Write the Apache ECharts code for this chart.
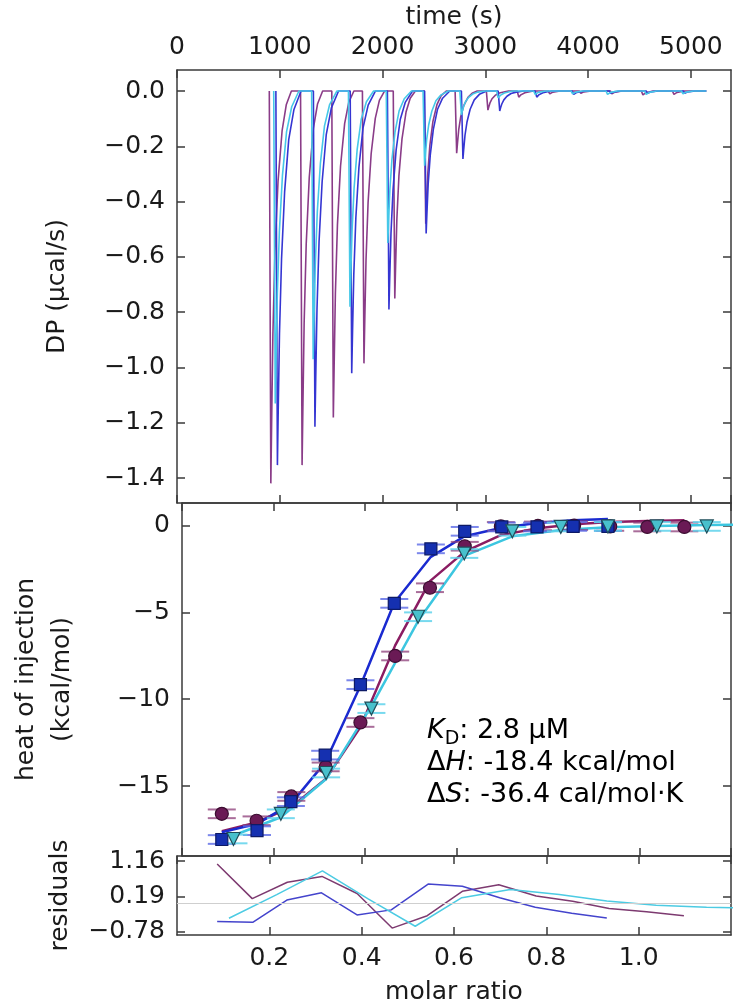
<!DOCTYPE html>
<html>
<head>
<meta charset="utf-8">
<script src="https://cdn.jsdelivr.net/npm/echarts@6/dist/echarts.min.js"></script>
<style>
html,body{margin:0;padding:0;background:#ffffff;}
#chart{width:748px;height:1006px;}
</style>
</head>
<body>
<div id="chart"></div>
<script>
// ---------------- tick labels ----------------
const timeTicks = [0, 1000, 2000, 3000, 4000, 5000];
const dpTicks = [-1.4, -1.2, -1.0, -0.8, -0.6, -0.4, -0.2, 0.0];
const heatTicks = [-15, -10, -5, 0];
const molarTicks = [0.2, 0.4, 0.6, 0.8, 1.0];
const residTicks = [-0.78, 0.19, 1.16];

// ---------------- thermogram (time s, DP µcal/s) ----------------
const dpPurple = [
  [898,0],[913,-1.419],[921,-1.192],[933,-0.880],[953,-0.582],[983,-0.326],[1023,-0.142],[1063,-0.050],[1113,0],
  [1202,0],[1217,-1.353],[1225,-1.137],[1237,-0.839],[1257,-0.555],[1287,-0.311],[1327,-0.135],[1367,-0.047],[1417,0],
  [1506,0],[1521,-1.181],[1529,-0.992],[1541,-0.732],[1561,-0.484],[1591,-0.272],[1631,-0.118],[1671,-0.041],[1721,0],
  [1804,0],[1819,-0.985],[1827,-0.827],[1839,-0.611],[1859,-0.404],[1889,-0.227],[1929,-0.099],[1969,-0.034],[2019,0],
  [2104,0],[2119,-0.750],[2127,-0.630],[2139,-0.465],[2159,-0.308],[2189,-0.173],[2229,-0.075],[2269,-0.026],[2319,0],
  [2405,0],[2420,-0.480],[2428,-0.403],[2440,-0.298],[2460,-0.197],[2490,-0.110],[2530,-0.048],[2570,-0.017],[2620,0],
  [2706,0],[2721,-0.225],[2729,-0.189],[2741,-0.140],[2761,-0.092],[2791,-0.052],[2831,-0.023],[2871,-0.008],[2921,0],
  [3010,0],[3025,-0.069],[3033,-0.058],[3045,-0.043],[3065,-0.028],[3095,-0.016],[3135,-0.007],[3225,0],
  [3310,0],[3325,-0.022],[3345,-0.014],[3385,-0.006],[3465,0],
  [3612,0],[3627,-0.010],[3657,-0.004],[3727,0],
  [3914,0],[3929,-0.008],[3959,-0.003],[4029,0],
  [4216,0],[4231,-0.010],[4261,-0.004],[4331,0],
  [4518,0],[4533,-0.014],[4563,-0.006],[4633,0],
  [4820,0],[4835,-0.012],[4865,-0.005],[4935,0],
  [5150,0]
];
const dpBlue = [
  [962,0],[977,-1.353],[985,-1.150],[997,-0.879],[1017,-0.609],[1047,-0.365],[1087,-0.176],[1137,-0.068],[1207,0],
  [1327,0],[1342,-1.214],[1350,-1.032],[1362,-0.789],[1382,-0.546],[1412,-0.328],[1452,-0.158],[1502,-0.061],[1572,0],
  [1685,0],[1700,-1.021],[1708,-0.868],[1720,-0.664],[1740,-0.459],[1770,-0.276],[1810,-0.133],[1860,-0.051],[1930,0],
  [2047,0],[2062,-0.790],[2070,-0.672],[2082,-0.514],[2102,-0.356],[2132,-0.213],[2172,-0.103],[2222,-0.040],[2292,0],
  [2409,0],[2424,-0.515],[2432,-0.438],[2444,-0.335],[2464,-0.232],[2494,-0.139],[2534,-0.067],[2584,-0.026],[2654,0],
  [2767,0],[2782,-0.246],[2790,-0.209],[2802,-0.160],[2822,-0.111],[2852,-0.066],[2892,-0.032],[2942,-0.012],[3012,0],
  [3125,0],[3140,-0.072],[3148,-0.061],[3160,-0.047],[3180,-0.032],[3210,-0.019],[3250,-0.009],[3300,-0.004],[3370,0],
  [3485,0],[3500,-0.022],[3520,-0.014],[3560,-0.006],[3640,0],
  [3845,0],[3860,-0.012],[3890,-0.005],[3960,0],
  [4205,0],[4220,-0.008],[4250,-0.003],[4320,0],
  [4565,0],[4580,-0.008],[4610,-0.003],[4680,0],
  [4925,0],[4940,-0.008],[4970,-0.003],[5040,0],
  [5150,0]
];
const dpCyan = [
  [941,0],[956,-1.13],[964,-0.961],[976,-0.735],[996,-0.509],[1026,-0.305],[1066,-0.147],[1116,-0.057],[1186,0],
  [1310,0],[1325,-0.97],[1333,-0.825],[1345,-0.631],[1365,-0.437],[1395,-0.262],[1435,-0.126],[1485,-0.049],[1555,0],
  [1668,0],[1683,-0.78],[1691,-0.663],[1703,-0.507],[1723,-0.351],[1753,-0.211],[1793,-0.101],[1843,-0.039],[1913,0],
  [2036,0],[2051,-0.55],[2059,-0.468],[2071,-0.358],[2091,-0.248],[2121,-0.149],[2161,-0.072],[2211,-0.028],[2281,0],
  [2394,0],[2409,-0.27],[2417,-0.230],[2429,-0.176],[2449,-0.122],[2479,-0.073],[2519,-0.035],[2569,-0.014],[2639,0],
  [2752,0],[2767,-0.087],[2775,-0.074],[2787,-0.057],[2807,-0.039],[2837,-0.023],[2877,-0.011],[2927,-0.004],[2997,0],
  [3110,0],[3125,-0.025],[3145,-0.016],[3185,-0.007],[3265,0],
  [3470,0],[3485,-0.012],[3515,-0.005],[3585,0],
  [3834,0],[3849,-0.010],[3879,-0.004],[3949,0],
  [4174,0],[4189,-0.012],[4219,-0.005],[4289,0],
  [4550,0],[4565,-0.012],[4595,-0.005],[4665,0],
  [4908,0],[4923,-0.010],[4953,-0.004],[5023,0],
  [5150,0]
];

// ---------------- integrated heats (molar ratio, kcal/mol) ----------------
const molarPurple = [0.087,0.163,0.239,0.314,0.390,0.466,0.542,0.618,0.697,0.778,0.857,0.936,1.017,1.098];
const heatPurple  = [-16.6,-17.0,-15.6,-13.9,-11.34,-7.51,-3.58,-1.19,-0.05,-0.02,0.0,-0.05,-0.08,-0.08];
const fitPurple   = [-17.6,-17.1,-16.2,-14.6,-11.6,-6.9,-3.2,-1.5,-0.55,-0.15,0.08,0.2,0.27,0.3];
const errPurple   = [0.25,0.25,0.25,0.25,0.25,0.25,0.25,0.25,0.25,0.25,0.25,0.25,0.25,0.25];
const residPurple = [1.08,0.13,0.58,0.74,0.27,-0.68,-0.34,0.33,0.51,0.20,0.06,-0.14,-0.23,-0.34];

const molarBlue = [0.087,0.164,0.238,0.313,0.390,0.464,0.544,0.618,0.699,0.776,0.855,0.931];
const heatBlue  = [-18.08,-17.57,-15.90,-13.22,-9.16,-4.48,-1.34,-0.33,-0.08,-0.08,-0.05,-0.05];
const fitBlue   = [-17.66,-17.18,-16.03,-13.64,-9.23,-4.44,-1.80,-0.61,-0.13,0.15,0.31,0.38];
const errBlue   = [0.25,0.25,0.25,0.25,0.25,0.25,0.25,0.25,0.25,0.25,0.25,0.25];
const residBlue = [-0.50,-0.52,0.09,0.29,-0.32,-0.18,0.53,0.47,0.155,-0.11,-0.27,-0.40];

const molarCyan = [0.1125,0.216,0.315,0.414,0.516,0.617,0.722,0.828,0.931,1.038,1.147,1.235];
const heatCyan  = [-18.05,-16.6,-14.25,-10.54,-5.25,-1.61,-0.33,-0.08,-0.05,-0.05,-0.05,-0.05];
const fitCyan   = [-17.85,-16.8,-14.6,-10.4,-5.5,-1.75,-0.62,-0.25,-0.1,-0.02,0.03,0.05];
const errCyan   = [0.25,0.25,0.25,0.25,0.25,0.25,0.25,0.25,0.25,0.25,0.25,0.25];
const residCyan = [-0.41,0.24,0.89,0.12,-0.63,0.155,0.38,0.24,0.064,-0.05,-0.11,-0.13];

// ---------------- styling ----------------
const FONT = 'DejaVu Sans';
const TXT = '#1a1a1a';
const FRAME = '#3a3a3a';
const labelBase = { fontFamily: FONT, fontSize: 25, color: TXT };
const axisLine = { show: true, onZero: false, lineStyle: { color: FRAME, width: 1.5 } };
const tickIn = { show: true, inside: true, length: 8, lineStyle: { color: FRAME, width: 1.5 } };
const noSplit = { show: false };
const minus = s => s.replace('-', '\u2212');

const G = [
  { left: 177, top: 70, width: 554, height: 433 },
  { left: 177, top: 503, width: 554, height: 353 },
  { left: 177, top: 856, width: 554, height: 79 }
];

function xAxisDef(grid, pos, min, max, interval, label, extra) {
  return Object.assign({
    gridIndex: grid, type: 'value', position: pos, min: min, max: max, interval: interval,
    axisLine: axisLine, axisTick: tickIn, splitLine: noSplit,
    axisLabel: label ? label : { show: false }
  }, extra || {});
}
function yAxisDef(grid, pos, min, max, ticks, label, extra) {
  return Object.assign({
    gridIndex: grid, type: 'value', position: pos, min: min, max: max,
    axisLine: axisLine, axisTick: Object.assign({}, tickIn, { customValues: ticks }), splitLine: noSplit,
    axisLabel: label ? Object.assign({ customValues: ticks }, label) : { show: false }
  }, extra || {});
}

const xAxes = [
  xAxisDef(0, 'top', 0, 5390, 1000,
    Object.assign({}, labelBase, { margin: 10, showMaxLabel: false, showMinLabel: true, formatter: v => String(v) }),
    { name: 'time (s)', nameLocation: 'middle', nameGap: 40, nameTextStyle: labelBase }),
  xAxisDef(0, 'bottom', 0, 5390, 1000, null),
  xAxisDef(1, 'top', 0, 1.2, 0.2, null),
  xAxisDef(1, 'bottom', 0, 1.2, 0.2, null),
  xAxisDef(2, 'top', 0, 1.2, 0.2, null),
  xAxisDef(2, 'bottom', 0, 1.2, 0.2,
    Object.assign({}, labelBase, { margin: 11, showMinLabel: false, showMaxLabel: false, formatter: v => v.toFixed(1) }),
    { name: 'molar ratio', nameLocation: 'middle', nameGap: 45, nameTextStyle: labelBase })
];

const yAxes = [
  yAxisDef(0, 'left', -1.49, 0.076, dpTicks,
    Object.assign({}, labelBase, { margin: 12, formatter: v => minus(v.toFixed(1)) }),
    { name: 'DP (\u00b5cal/s)', nameLocation: 'middle', nameGap: 107, nameTextStyle: labelBase }),
  yAxisDef(0, 'right', -1.49, 0.076, dpTicks, null),
  yAxisDef(1, 'left', -19.03, 1.3, heatTicks,
    Object.assign({}, labelBase, { margin: 12, formatter: v => minus(String(Math.round(v))) }),
    { name: 'heat of injection\n(kcal/mol)', nameLocation: 'middle', nameGap: 102,
      nameTextStyle: Object.assign({}, labelBase, { lineHeight: 36 }) }),
  yAxisDef(1, 'right', -19.03, 1.3, heatTicks, null),
  yAxisDef(2, 'left', -0.87, 1.30, residTicks,
    Object.assign({}, labelBase, { margin: 12, formatter: v => minus(v.toFixed(2)) }),
    { name: 'residuals', nameLocation: 'middle', nameGap: 104, nameTextStyle: labelBase }),
  yAxisDef(2, 'right', -0.87, 1.30, residTicks, null)
];

const pair = (xs, ys) => xs.map((x, i) => [x, ys[i]]);
const triple = (xs, ys, es) => xs.map((x, i) => [x, ys[i], es[i]]);

function capRenderer(color) {
  return function (params, api) {
    const x = api.value(0), y = api.value(1), e = api.value(2);
    const top = api.coord([x, y + e]);
    const bot = api.coord([x, y - e]);
    const hw = 14;
    return {
      type: 'group',
      children: [
        { type: 'line', shape: { x1: top[0] - hw, y1: top[1], x2: top[0] + hw, y2: top[1] }, style: { stroke: color, lineWidth: 2 } },
        { type: 'line', shape: { x1: bot[0] - hw, y1: bot[1], x2: bot[0] + hw, y2: bot[1] }, style: { stroke: color, lineWidth: 2 } }
      ]
    };
  };
}

function thermo(name, data, color) {
  return { name: name, type: 'line', xAxisIndex: 0, yAxisIndex: 0, data: data, showSymbol: false,
    symbol: 'none', lineStyle: { color: color, width: 1.6 }, z: 2, silent: true };
}
function fit(name, xs, ys, color) {
  return { name: name, type: 'line', xAxisIndex: 3, yAxisIndex: 2, data: pair(xs, ys), symbol: 'none',
    lineStyle: { color: color, width: 2.5 }, z: 2, clip: true, silent: true };
}
function caps(name, xs, ys, es, color) {
  return { name: name, type: 'custom', xAxisIndex: 3, yAxisIndex: 2, data: triple(xs, ys, es),
    renderItem: capRenderer(color), clip: true, z: 3, silent: true };
}
function pts(name, xs, ys, symbol, size, fill, border, rot) {
  return { name: name, type: 'scatter', xAxisIndex: 3, yAxisIndex: 2, data: pair(xs, ys), symbol: symbol,
    symbolSize: size, symbolRotate: rot || 0, clip: true, z: 4, silent: true,
    itemStyle: { color: fill, borderColor: border, borderWidth: 1.2, opacity: 1 } };
}
function resid(name, xs, ys, color, extra) {
  return Object.assign({ name: name, type: 'line', xAxisIndex: 5, yAxisIndex: 4, data: pair(xs, ys), symbol: 'none',
    lineStyle: { color: color, width: 1.5 }, z: 3, clip: true, silent: true }, extra || {});
}

const rich = {
  i: { fontFamily: FONT, fontSize: 27, fontStyle: 'italic', color: TXT, lineHeight: 36 },
  s: { fontFamily: FONT, fontSize: 19, color: TXT, lineHeight: 19, verticalAlign: 'bottom' },
  n: { fontFamily: FONT, fontSize: 27, color: TXT, lineHeight: 36 }
};

const option = {
  animation: false,
  backgroundColor: '#ffffff',
  grid: G,
  xAxis: xAxes,
  yAxis: yAxes,
  graphic: [
    { type: 'text', left: 427, top: 717, silent: true,
      style: { text: '{i|K}{s|D}{n|: 2.8 \u00b5M}', rich: rich } },
    { type: 'text', left: 427, top: 749, silent: true,
      style: { text: '{n|\u0394}{i|H}{n|: -18.4 kcal/mol}', rich: rich } },
    { type: 'text', left: 427, top: 781, silent: true,
      style: { text: '{n|\u0394}{i|S}{n|: -36.4 cal/mol\u00b7K}', rich: rich } }
  ],
  series: [
    thermo('purple thermogram', dpPurple, '#8a3c88'),
    thermo('blue thermogram', dpBlue, '#3535d2'),
    thermo('cyan thermogram', dpCyan, '#45c8e8'),

    fit('purple fit', molarPurple, fitPurple, '#8a1c62'),
    fit('blue fit', molarBlue, fitBlue, '#1a2ad0'),
    fit('cyan fit', molarCyan, fitCyan, '#3cc6e0'),

    caps('purple err', molarPurple, heatPurple, errPurple, 'rgba(140,60,120,0.75)'),
    caps('blue err', molarBlue, heatBlue, errBlue, 'rgba(90,105,230,0.8)'),
    caps('cyan err', molarCyan, heatCyan, errCyan, 'rgba(95,210,235,0.85)'),

    pts('purple data', molarPurple, heatPurple, 'circle', 13, '#6a1a55', '#3b0d30'),
    pts('blue data', molarBlue, heatBlue, 'rect', 12, '#1530b0', '#0d1a66'),
    pts('cyan data', molarCyan, heatCyan, 'triangle', 13, '#48c0cc', '#1e4d5a', 180),

    resid('purple residuals', molarPurple, residPurple, '#7d3a70', {
      markLine: { silent: true, symbol: 'none', label: { show: false },
        lineStyle: { color: '#cfcfcf', width: 1, type: 'solid' }, data: [{ yAxis: 0 }] }
    }),
    resid('blue residuals', molarBlue, residBlue, '#4444cc'),
    resid('cyan residuals', molarCyan, residCyan, '#4ccbe3')
  ]
};

const chart = echarts.init(document.getElementById('chart'), null, { renderer: 'canvas' });
chart.setOption(option);
</script>
</body>
</html>
